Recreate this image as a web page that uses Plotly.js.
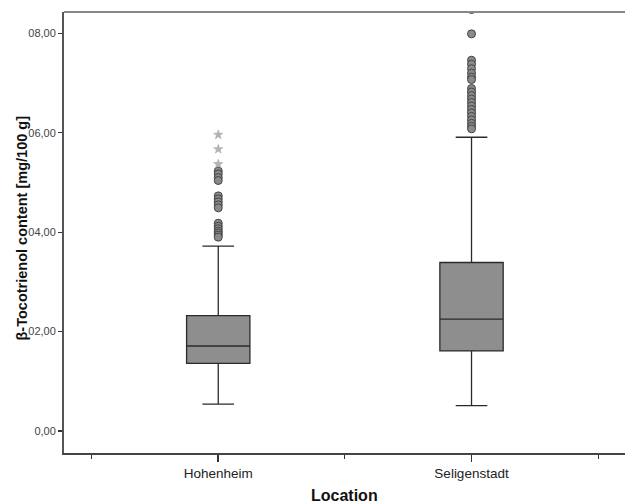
<!DOCTYPE html>
<html>
<head>
<meta charset="utf-8">
<script src="https://cdn.plot.ly/plotly-3.0.1.min.js"></script>
<style>html,body{margin:0;padding:0;background:#fff;}#chart{width:625px;height:503px;}</style>
</head>
<body>
<div id="chart"></div>
<script>
// Categories and box statistics
const categories = ["Hohenheim", "Seligenstadt"];
const lowerWhisker = [0.54, 0.51];
const q1Values = [1.36, 1.61];
const medianValues = [1.71, 2.25];
const q3Values = [2.32, 3.39];
const upperWhisker = [3.72, 5.91];

// Outliers (circles) and extreme values (stars)
const hohenheimOutliers = [5.23, 5.17, 5.10, 5.04, 4.73, 4.67, 4.61, 4.55, 4.49, 4.18, 4.12, 4.07, 4.02, 3.98, 3.94, 3.90];
const hohenheimExtremes = [5.96, 5.67, 5.37];
const seligenstadtOutliers = [8.48, 7.99, 7.46, 7.38, 7.29, 7.20, 7.12, 7.07, 6.89, 6.82, 6.75, 6.68, 6.61, 6.54, 6.47, 6.40, 6.33, 6.26, 6.19, 6.13, 6.08];
const seligenstadtExtremes = [];

const yTickVals = [0, 2, 4, 6, 8];
const yTickText = ["0,00", "02,00", "04,00", "06,00", "08,00"];
const xTitle = "Location";
const yTitle = "β-Tocotrienol content [mg/100 g]";

const idx = categories.map((c, i) => i);

const traces = [];
traces.push({
  type: "box",
  x: idx,
  q1: q1Values,
  median: medianValues,
  q3: q3Values,
  lowerfence: lowerWhisker,
  upperfence: upperWhisker,
  boxpoints: false,
  width: 0.25,
  whiskerwidth: 0.5,
  fillcolor: "#8e8e8e",
  line: {color: "#2a2a2a", width: 1.3},
  hoverinfo: "skip",
  showlegend: false
});

const outlierSets = [hohenheimOutliers, seligenstadtOutliers];
const extremeSets = [hohenheimExtremes, seligenstadtExtremes];
outlierSets.forEach((arr, i) => {
  traces.push({
    type: "scatter", mode: "markers",
    x: arr.map(() => idx[i]), y: arr,
    marker: {symbol: "circle", size: 8, color: "#8a8a8a", line: {color: "#444", width: 1}},
    showlegend: false, hoverinfo: "skip"
  });
});
extremeSets.forEach((arr, i) => {
  if (!arr.length) return;
  traces.push({
    type: "scatter", mode: "markers",
    x: arr.map(() => idx[i]), y: arr,
    marker: {symbol: "star", size: 7, color: "#b4b4b4", line: {color: "#a0a0a0", width: 0.5}},
    showlegend: false, hoverinfo: "skip"
  });
});

const layout = {
  width: 625, height: 503,
  margin: {l: 64, r: 0, t: 12, b: 50, pad: 0},
  paper_bgcolor: "#fff", plot_bgcolor: "#fff",
  font: {family: "Liberation Sans, Arial, sans-serif", color: "#222"},
  showlegend: false,
  xaxis: {
    range: [-0.609, 1.606],
    tickmode: "array", tickvals: idx, ticktext: categories,
    ticks: "outside", ticklen: 7, tickwidth: 1.5, tickcolor: "#333",
    minor: {tickmode: "array", tickvals: [-0.5, 0.5, 1.5], ticks: "outside", ticklen: 4, tickwidth: 1.2, tickcolor: "#333"},
    showgrid: false, zeroline: false,
    showline: true, linecolor: "#444", linewidth: 2,
    tickfont: {size: 13.5, color: "#222"}
  },
  yaxis: {
    range: [-0.443, 8.43],
    tickmode: "array", tickvals: yTickVals, ticktext: yTickText,
    ticks: "outside", ticklen: 4, tickwidth: 1.2, tickcolor: "#333",
    showgrid: false, zeroline: false,
    showline: true, linecolor: "#555", linewidth: 2,
    tickfont: {size: 11, color: "#444"}
  },
  annotations: [
    {text: "<b>" + yTitle + "</b>", xref: "paper", yref: "paper", x: 0, y: 0.5, xshift: -43, yshift: 4,
     xanchor: "center", yanchor: "middle", textangle: -90, showarrow: false, font: {size: 14.5, color: "#111"}},
    {text: "<b>" + xTitle + "</b>", xref: "paper", yref: "paper", x: 0.5, y: 0, yshift: -42,
     xanchor: "center", yanchor: "middle", showarrow: false, font: {size: 16, color: "#111"}}
  ],
  shapes: [{type: "line", xref: "paper", yref: "paper", x0: 0, x1: 1, y0: 1, y1: 1, line: {color: "#888", width: 2}}]
};

Plotly.newPlot("chart", traces, layout, {staticPlot: true, displayModeBar: false});
</script>
</body>
</html>
